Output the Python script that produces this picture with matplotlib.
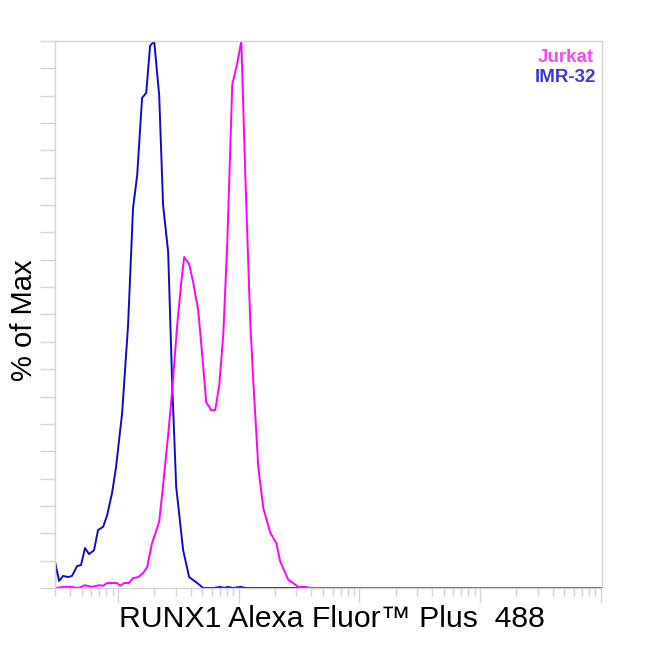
import numpy as np
import matplotlib
matplotlib.use("Agg")
import matplotlib.pyplot as plt
from matplotlib.ticker import LogLocator, NullFormatter, MultipleLocator

plt.rcParams['font.family'] = ['Liberation Sans', 'DejaVu Sans']

# IMR-32 (blue) histogram, % of max vs fluorescence intensity
imr_x = [30, 30.2, 32.4, 35, 38.5, 41.5, 45.7, 49.3, 53.2, 57.4, 63.2, 68.2, 75.2, 81.1,
         89.2, 96.2, 108, 112, 121, 133, 144, 158, 171, 184, 199, 219, 236, 260, 281,
         303, 346, 388, 453, 507, 620, 701, 760, 804, 900, 1028, 1150, 1e6]
imr_y = [0, 4.6, 1.3, 2.2, 2.0, 2.2, 4.0, 4.2, 7.3, 6.2, 6.9, 10.6, 11.2, 13.3,
         17.4, 22.1, 32.0, 37.1, 48.1, 69.5, 75.5, 89.6, 90.5, 99.1, 100, 90.1, 70.0, 61.4, 37.1,
         18.5, 6.9, 2.0, 0.9, 0, 0, 0.2, 0, 0.2, 0, 0.2, 0, 0]

# Jurkat (magenta) histogram
jur_x = [30.5, 35, 40.7, 46.6, 53.2, 60.8, 69.5, 75.2, 81.1, 98.1, 104, 112, 123, 133,
         147, 161, 174, 191, 219, 236, 260, 281, 309, 334, 353, 388, 419, 461, 498, 537,
         591, 638, 689, 744, 804, 883, 972, 1050, 1133, 1245, 1318, 1452, 1597, 1824,
         2046, 2208, 2574, 3118, 3566, 3920, 1e6]
jur_y = [0, 0.2, 0.2, 0, 0.5, 0.2, 0.5, 0.4, 0.9, 0.9, 0.4, 0.9, 0.9, 1.8,
         2.0, 2.7, 3.8, 8.2, 12.1, 18.8, 28.0, 36.2, 48.1, 55.9, 60.5, 59.2, 55.9, 50.8, 42.6, 34.0,
         32.5, 32.5, 37.1, 46.3, 63.3, 92.0, 96.0, 100, 75.5, 48.6, 38.0, 22.1, 14.6, 10.1,
         8.2, 4.8, 1.5, 0.2, 0.2, 0, 0]

blue = '#0c0cc8'
magenta = '#ff00ff'
grey = '#d4d4d4'

fig = plt.figure(figsize=(6.5, 6.51), dpi=100)
ax = fig.add_axes([0.0846, 0.0968, 0.8415, 0.8402])

ax.plot(imr_x, imr_y, color=blue, lw=1.4)
ax.plot(jur_x, jur_y, color=magenta, lw=1.4)

ax.set_xscale('log')
ax.set_xlim(10 ** 1.477, 10 ** 6.01)
ax.set_ylim(0, 100)

ax.xaxis.set_major_locator(LogLocator(base=10, numticks=10))
ax.xaxis.set_minor_locator(LogLocator(base=10, subs=np.arange(2, 10), numticks=20))
ax.xaxis.set_major_formatter(NullFormatter())
ax.xaxis.set_minor_formatter(NullFormatter())
ax.yaxis.set_major_locator(MultipleLocator(5))
ax.yaxis.set_major_formatter(NullFormatter())

ax.tick_params(axis='x', which='major', length=11, width=1, color=grey)
ax.tick_params(axis='x', which='minor', length=6, width=1, color=grey)
ax.tick_params(axis='y', which='major', length=11, width=1, color=grey)

for s in ax.spines.values():
    s.set_color(grey)
    s.set_linewidth(1)

ax.set_xlabel('RUNX1 Alexa Fluor\u2122 Plus  488', fontsize=21.7)
ax.set_ylabel('% of Max', fontsize=21)
ax.xaxis.set_label_coords(0.506, -0.031)
ax.yaxis.set_label_coords(-0.031, 0.49)

ax.text(0.985, 0.985, 'Jurkat', transform=ax.transAxes, ha='right', va='top',
        color='#f04cf0', fontsize=13.5, fontweight='bold')
ax.text(0.99, 0.948, 'IMR-32', transform=ax.transAxes, ha='right', va='top',
        color='#3a3ad8', fontsize=13.5, fontweight='bold')

fig.savefig('out.png', dpi=100)
